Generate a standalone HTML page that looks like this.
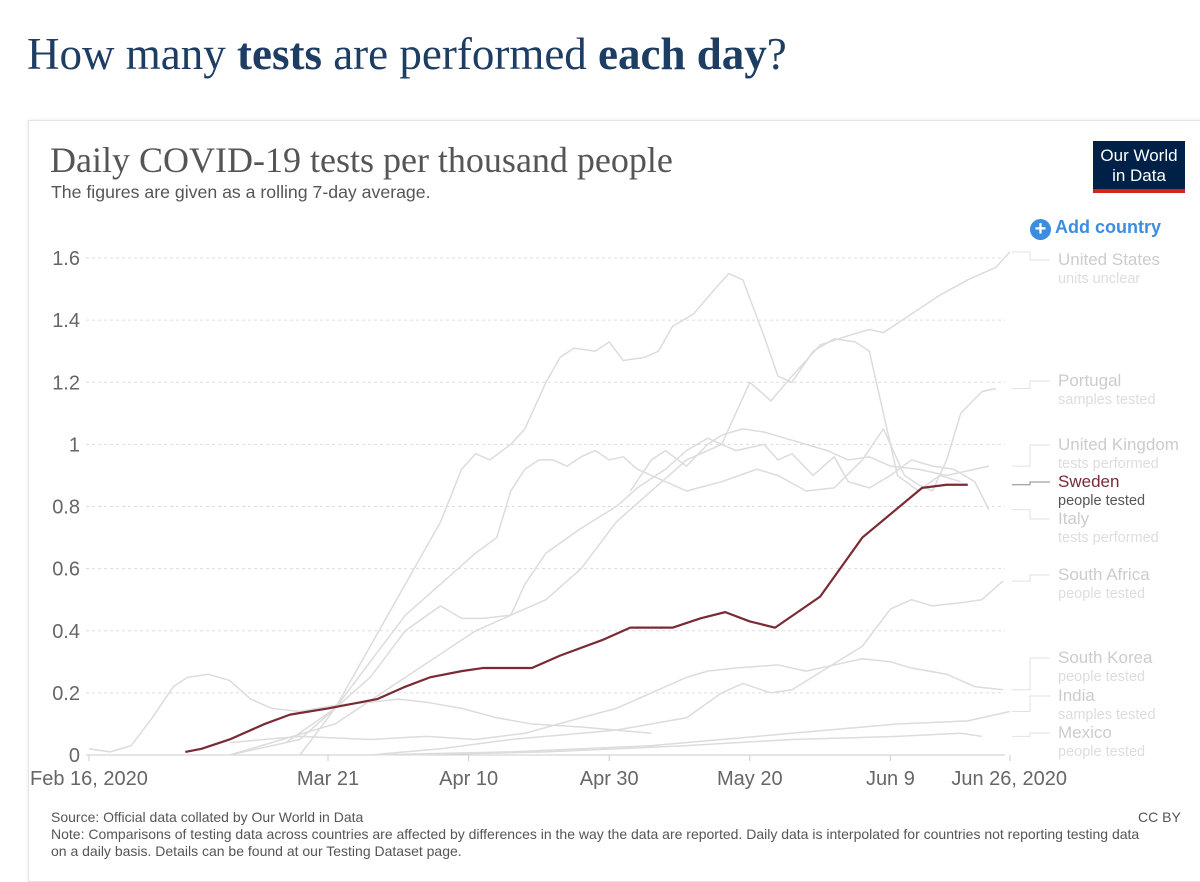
<!DOCTYPE html>
<html><head><meta charset="utf-8">
<style>
html,body{margin:0;padding:0;background:#fff;width:1200px;height:868px;overflow:hidden;font-family:"Liberation Sans",sans-serif;}
.card{position:absolute;left:28px;top:120px;width:1190px;height:760px;border:1px solid #e4e4e4;box-shadow:0 0 4px rgba(0,0,0,0.08);}
svg{position:absolute;left:0;top:0;}
</style></head><body>
<div style="position:absolute;left:27px;top:28px;font-family:'Liberation Serif',serif;font-size:45px;color:#1d3d63;">How many <b>tests</b> are performed <b>each day</b>?</div>
<div class="card"></div>
<div style="position:absolute;left:50px;top:139px;font-family:'Liberation Serif',serif;font-size:36px;color:#555;">Daily COVID-19 tests per thousand people</div>
<div style="position:absolute;left:51px;top:182px;font-size:17.7px;color:#555;">The figures are given as a rolling 7-day average.</div>
<div style="position:absolute;left:1093px;top:141px;width:92px;height:52px;background:#002147;color:#fff;font-size:17px;line-height:20px;text-align:center;padding-top:5px;box-sizing:border-box;border-bottom:4px solid #ce261e;">Our World<br>in Data</div>
<div style="position:absolute;left:1030px;top:217px;font-size:18px;color:#3b8de0;font-weight:bold;"><span style="display:inline-block;width:21px;height:21px;border-radius:50%;background:#3b8de0;color:#fff;text-align:center;line-height:21px;font-size:20px;vertical-align:-2px;margin-right:4px;">+</span>Add country</div>
<svg id="chart" width="1200" height="868"></svg>
<div style="position:absolute;left:51px;top:809px;font-size:14px;color:#555;line-height:17px;width:1100px;">Source: Official data collated by Our World in Data<br>Note: Comparisons of testing data across countries are affected by differences in the way the data are reported. Daily data is interpolated for countries not reporting testing data on a daily basis. Details can be found at our Testing Dataset page.</div>
<div style="position:absolute;left:1138px;top:809px;font-size:14px;color:#555;">CC BY</div>
<script>
const yTicks=[0,0.2,0.4,0.6,0.8,1,1.2,1.4,1.6];
const yTickLabels=["0","0.2","0.4","0.6","0.8","1","1.2","1.4","1.6"];
const xTickDays=[0,34,54,74,94,114,131];
const xTickLabels=["Feb 16, 2020","Mar 21","Apr 10","Apr 30","May 20","Jun 9","Jun 26, 2020"];
const swedenDays=[13.7,16,20,25,28.6,34,41,45,48.5,53,56,63,67,73,77,83,87,90.5,94,97.6,104,110,118.5,122,125];
const swedenVals=[0.01,0.02,0.05,0.1,0.13,0.15,0.18,0.22,0.25,0.27,0.28,0.28,0.32,0.37,0.41,0.41,0.44,0.46,0.43,0.41,0.51,0.70,0.86,0.87,0.87];
const usDays=[20,35,45,55,60,65,70,75,80,85,90,94,97,100,104,108,111,113,117,121,125,129,131];
const usVals=[0,0.1,0.25,0.4,0.45,0.5,0.6,0.75,0.85,0.95,1.0,1.2,1.14,1.22,1.32,1.35,1.37,1.36,1.42,1.48,1.53,1.57,1.62];
const aDays=[30,35,40,45,50,53,55,57,60,62,65,67,69,72,74,76,79,81,83,86,89,91,93,96,98,100,103,106,109,111,113,115,118,121,124];
const aVals=[0,0.15,0.35,0.55,0.75,0.92,0.97,0.95,1.0,1.05,1.2,1.28,1.31,1.3,1.33,1.27,1.28,1.3,1.38,1.42,1.5,1.55,1.53,1.35,1.22,1.2,1.3,1.34,1.33,1.3,1.1,0.9,0.85,0.9,0.88];
const ptDays=[28,35,40,45,50,55,58,60,62,64,66,68,70,72,74,76,78,80,82,85,90,95,98,102,106,110,113,116,118,120,122,124,127,129];
const ptVals=[0.04,0.15,0.3,0.45,0.55,0.65,0.7,0.85,0.92,0.95,0.95,0.93,0.96,0.98,0.95,0.96,0.92,0.9,0.88,0.85,0.88,0.92,0.9,0.85,0.86,0.95,1.05,0.9,0.87,0.85,0.95,1.1,1.17,1.18];
const ukDays=[77,80,82,85,88,90,93,96,99,102,105,108,111,114,118,122,126,128];
const ukVals=[0.85,0.95,0.98,0.93,1.0,1.03,1.05,1.04,1.02,1.0,0.98,0.95,0.96,0.93,0.92,0.9,0.92,0.93];
const itDays=[20,30,40,45,50,53,56,60,62,65,70,75,78,82,85,88,92,96,98,100,103,106,108,111,114,117,120,123,126,128];
const itVals=[0,0.05,0.25,0.4,0.48,0.44,0.44,0.45,0.55,0.65,0.73,0.8,0.86,0.92,0.98,1.02,0.98,1.0,0.95,0.97,0.9,0.96,0.88,0.86,0.9,0.95,0.93,0.92,0.88,0.79];
const earlyDays=[0,3,6,9,12,14,17,20,23,26,30,35,40,44,48,53,58,63,70,75,80];
const earlyVals=[0.02,0.01,0.03,0.12,0.22,0.25,0.26,0.24,0.18,0.15,0.14,0.16,0.17,0.18,0.17,0.15,0.12,0.1,0.09,0.08,0.07];
const saDays=[40,50,60,75,85,90,93,97,100,105,110,114,117,120,124,127,130];
const saVals=[0,0.02,0.05,0.08,0.12,0.2,0.23,0.2,0.21,0.28,0.35,0.47,0.5,0.48,0.49,0.5,0.56];
const skDays=[20,30,40,48,55,62,70,75,80,85,88,92,98,102,106,110,114,117,122,126,130];
const skVals=[0.04,0.06,0.05,0.06,0.05,0.07,0.12,0.15,0.2,0.25,0.27,0.28,0.29,0.27,0.29,0.31,0.3,0.28,0.26,0.22,0.21];
const inDays=[40,60,80,100,115,125,131];
const inVals=[0,0.01,0.03,0.07,0.1,0.11,0.14];
const mxDays=[45,65,85,100,115,124,127];
const mxVals=[0,0.01,0.03,0.05,0.06,0.07,0.06];

const X0=89,PXD=7.03,Y0=755,PXU=310.6;
const xs=d=>X0+d*PXD, ys=v=>Y0-v*PXU;
const svg=document.getElementById('chart');
const NS='http://www.w3.org/2000/svg';
function mk(t,a){const e=document.createElementNS(NS,t);for(const k in a)e.setAttribute(k,a[k]);svg.appendChild(e);return e;}
yTicks.forEach((v,i)=>{
  const g=mk('line',{x1:86,x2:1005,y1:ys(v),y2:ys(v),stroke:v===0?'#ccc':'#ddd','stroke-dasharray':v===0?'':'3,3'});
  
  
  const t=mk('text',{x:80,y:ys(v)+7,'text-anchor':'end','font-size':20,fill:'#666','font-family':'Liberation Sans,sans-serif'});
  t.textContent=yTickLabels[i];
  
  
});
xTickDays.forEach((d,i)=>{
  const l=mk('line',{x1:xs(d),x2:xs(d),y1:755,y2:761,stroke:'#ccc'});
  
  
  const anchor=i===0?'start':(i===xTickDays.length-1?'end':'middle');
  const tx=i===0?30:(i===xTickDays.length-1?1067:xs(d));
  const t=mk('text',{x:tx,y:785,'text-anchor':anchor,'font-size':20,fill:'#666','font-family':'Liberation Sans,sans-serif'});
  t.textContent=xTickLabels[i];
  
  
});
function line(days,vals,color,w,name){
  const p=mk('polyline',{points:days.map((d,i)=>xs(d)+','+ys(vals[i])).join(' '),fill:'none',stroke:color,'stroke-width':w,'stroke-linejoin':'round'});
  
  
}
line(earlyDays,earlyVals,'#dcdcdc',1.5,'early-series-line');
line(mxDays,mxVals,'#dcdcdc',1.5,'mexico-line');
line(inDays,inVals,'#dcdcdc',1.5,'india-line');
line(skDays,skVals,'#dcdcdc',1.5,'south-korea-line');
line(saDays,saVals,'#dcdcdc',1.5,'south-africa-line');
line(itDays,itVals,'#dcdcdc',1.5,'italy-line');
line(ukDays,ukVals,'#dcdcdc',1.5,'uk-line');
line(ptDays,ptVals,'#dcdcdc',1.5,'portugal-line');
line(aDays,aVals,'#dcdcdc',1.5,'country-line');
line(usDays,usVals,'#dcdcdc',1.5,'united-states-line');
line(swedenDays,swedenVals,'#7a2a33',2.2,'sweden-line');
const legend=[["United States","units unclear",253,1.62],["Portugal","samples tested",374,1.18],["United Kingdom","tests performed",438,0.93],["Sweden","people tested",475,0.87],["Italy","tests performed",512,0.79],["South Africa","people tested",568,0.56],["South Korea","people tested",651,0.21],["India","samples tested",689,0.14],["Mexico","people tested",726,0.06]];
legend.forEach(r=>{
  const sw=r[0]==='Sweden';
  const c=sw?'#7a2a33':'#ccc';
  const ly=r[2]+7, sy=ys(r[3]);
  const p=mk('polyline',{points:`1012,${sy} 1030,${sy} 1030,${ly} 1050,${ly}`,fill:'none',stroke:sw?'#888':'#e2e2e2','stroke-width':1});
  
  
  const t=mk('text',{x:1058,y:r[2]+12,'font-size':17,fill:c,'font-family':'Liberation Sans,sans-serif'});
  t.textContent=r[0];
  
  
  const s=mk('text',{x:1058,y:r[2]+30,'font-size':14.5,fill:sw?'#555':'#ddd','font-family':'Liberation Sans,sans-serif'});
  s.textContent=r[1];
  
  
});
</script>
</body></html>
